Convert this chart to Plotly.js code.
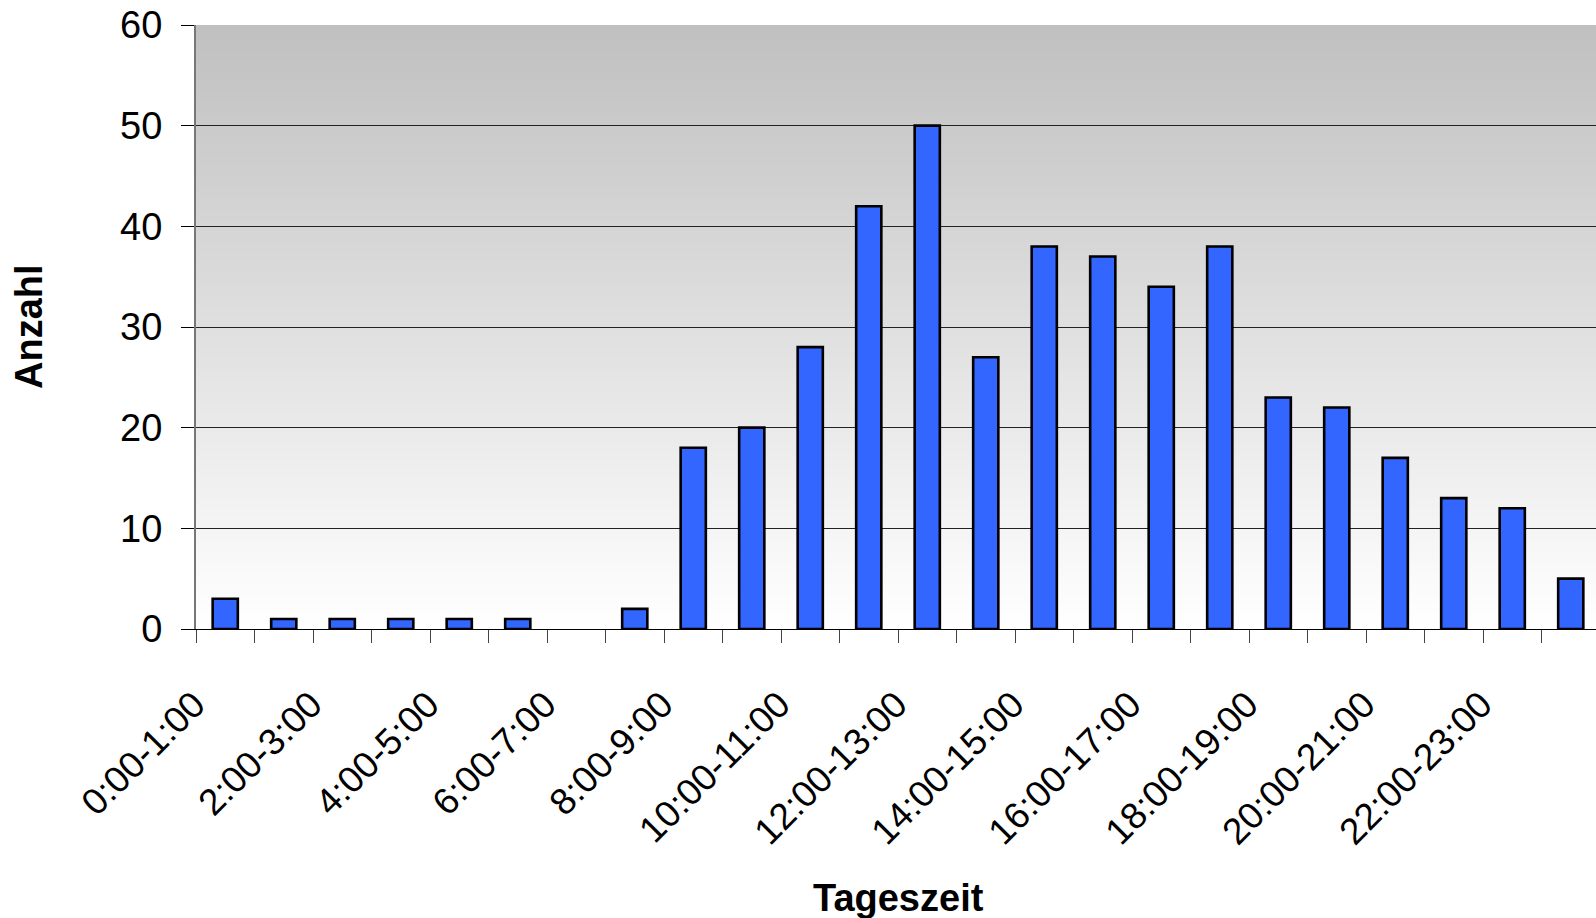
<!DOCTYPE html>
<html>
<head>
<meta charset="utf-8">
<script src="https://cdn.plot.ly/plotly-3.0.1.min.js"></script>
<style>
  html, body { margin: 0; padding: 0; overflow: hidden; background: #fff; }
  #chart { width: 1600px; height: 918px; }
</style>
</head>
<body>
<div id="chart"></div>
<script>
const categories = [
  "0:00-1:00", "1:00-2:00", "2:00-3:00", "3:00-4:00", "4:00-5:00", "5:00-6:00",
  "6:00-7:00", "7:00-8:00", "8:00-9:00", "9:00-10:00", "10:00-11:00", "11:00-12:00",
  "12:00-13:00", "13:00-14:00", "14:00-15:00", "15:00-16:00", "16:00-17:00", "17:00-18:00",
  "18:00-19:00", "19:00-20:00", "20:00-21:00", "21:00-22:00", "22:00-23:00", "23:00-24:00"
];
const counts = [3, 1, 1, 1, 1, 1, 0, 2, 18, 20, 28, 42, 50, 27, 38, 37, 34, 38, 23, 22, 17, 13, 12, 5];
const yTickVals = [0, 10, 20, 30, 40, 50, 60];
const xTitle = "Tageszeit";
const yTitle = "Anzahl";

// every other category label shown
const tickText = categories.map((c, i) => (i % 2 === 0 ? c : ""));
// no outline for empty bars
const lineWidths = counts.map(v => (v === 0 ? 0 : 2.6));

// vertical gradient background (grey at top, white at bottom)
const bands = 120;
const shapes = [];
for (let i = 0; i < bands; i++) {
  const t = i / (bands - 1);
  const v = Math.round(255 - (255 - 192) * t);
  shapes.push({
    type: "rect", xref: "paper", yref: "paper", layer: "below",
    x0: 0, x1: 1, y0: i / bands, y1: Math.min(1, (i + 1.6) / bands),
    fillcolor: `rgb(${v},${v},${v})`, line: { width: 0 }
  });
}

const trace = {
  type: "bar",
  x: categories,
  y: counts,
  marker: { color: "#3366ff", line: { color: "#000000", width: lineWidths } },
  hoverinfo: "x+y"
};

const font = "Liberation Sans, Arial, sans-serif";

const layout = {
  width: 1600, height: 918,
  margin: { l: 196, r: 0, t: 25, b: 289, pad: 0 },
  paper_bgcolor: "#ffffff",
  plot_bgcolor: "rgba(0,0,0,0)",
  showlegend: false,
  bargap: 0.57,
  shapes: shapes,
  xaxis: {
    type: "category",
    categoryorder: "array", categoryarray: categories,
    tickmode: "array", tickvals: categories, ticktext: tickText,
    tickson: "boundaries",
    ticks: "outside", ticklen: 13, tickwidth: 1, tickcolor: "#444",
    tickangle: -45,
    ticklabelstandoff: 38,
    ticklabelshift: -31,
    tickfont: { family: font, size: 37, color: "#000" },
    showline: true, linecolor: "#000", linewidth: 1,
    showgrid: false, zeroline: false,
    automargin: false
  },
  yaxis: {
    range: [0, 60],
    tickmode: "array", tickvals: yTickVals,
    ticks: "outside", ticklen: 13, tickwidth: 1, tickcolor: "#000",
    tickfont: { family: font, size: 38, color: "#000" },
    ticklabelstandoff: 11,
    showline: true, linecolor: "#777", linewidth: 2,
    showgrid: true, gridcolor: "#222", gridwidth: 1,
    zeroline: false,
    automargin: false
  },
  annotations: [
    {
      text: "<b>" + yTitle + "</b>", xref: "paper", yref: "paper",
      x: -196 / 1404 + 29 / 1404, y: 0.5, xanchor: "center", yanchor: "middle",
      textangle: -90, showarrow: false,
      font: { family: font, size: 38, color: "#000" }
    },
    {
      text: "<b>" + xTitle + "</b>", xref: "paper", yref: "paper",
      x: 0.5, y: -(898 - 629) / 604, xanchor: "center", yanchor: "middle",
      showarrow: false,
      font: { family: font, size: 38, color: "#000" }
    }
  ]
};

Plotly.newPlot("chart", [trace], layout, { displayModeBar: false, staticPlot: true });
</script>
</body>
</html>
